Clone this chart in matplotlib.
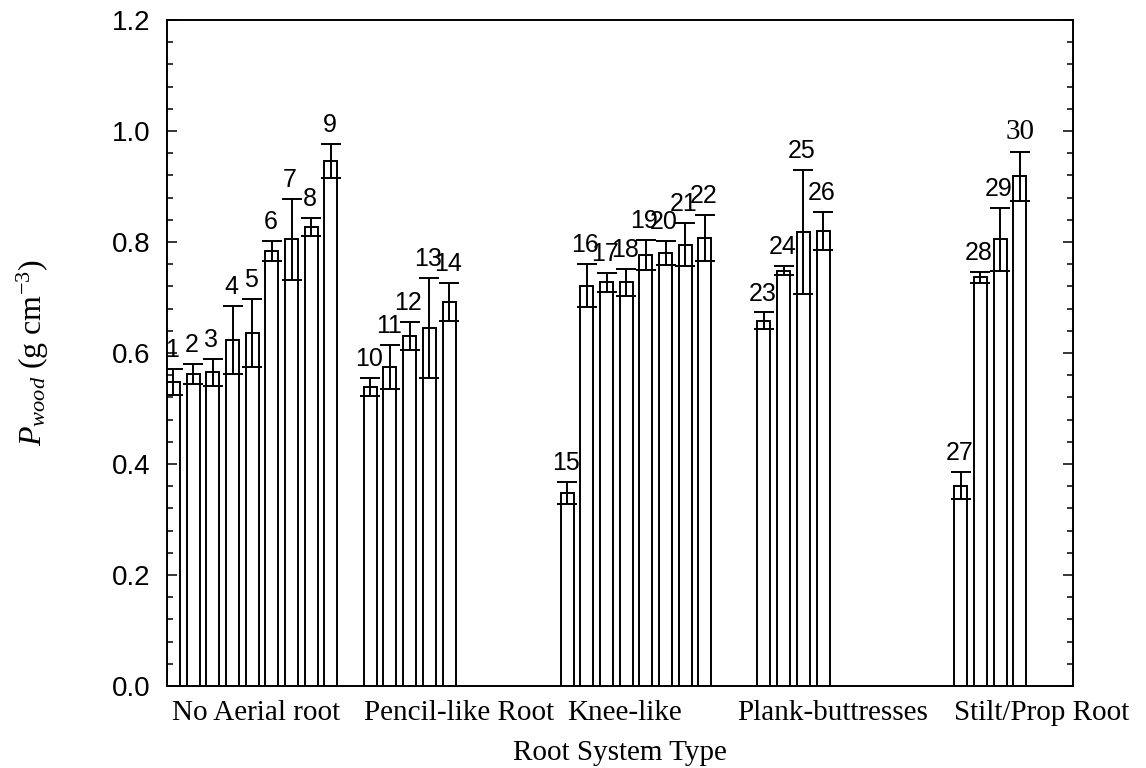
import matplotlib
matplotlib.use("Agg")
import matplotlib.pyplot as plt
import numpy as np
from matplotlib.ticker import MultipleLocator

# data
categories = ["No Aerial root", "Pencil-like Root", "Knee-like",
              "Plank-buttresses", "Stilt/Prop Root"]
group_sizes = [9, 5, 8, 4, 4]
wood_density = [0.548, 0.562, 0.565, 0.624, 0.636, 0.783, 0.805, 0.827, 0.946,
                0.539, 0.575, 0.631, 0.645, 0.692,
                0.347, 0.721, 0.727, 0.727, 0.777, 0.780, 0.795, 0.807,
                0.658, 0.748, 0.818, 0.820,
                0.361, 0.736, 0.805, 0.918]
wood_err = [0.024, 0.018, 0.025, 0.061, 0.062, 0.018, 0.073, 0.016, 0.030,
            0.016, 0.040, 0.025, 0.090, 0.034,
            0.020, 0.039, 0.017, 0.025, 0.027, 0.021, 0.039, 0.042,
            0.015, 0.008, 0.112, 0.034,
            0.025, 0.010, 0.057, 0.045]
bar_labels = [str(i) for i in range(1, 31)]

# each group gets 9 slots plus one empty slot
slots_per_group = 10
label_shift = [0.2, 0.5, -1.1, -0.5, 0.1]

plt.rcParams["mathtext.fontset"] = "custom"
plt.rcParams["mathtext.rm"] = "Liberation Serif"
plt.rcParams["mathtext.it"] = "Liberation Serif:italic"

x = []
for g, n in enumerate(group_sizes):
    for k in range(n):
        x.append(g * slots_per_group + k)
x = np.array(x)
means = np.array(wood_density)
errs = np.array(wood_err)

fig = plt.figure(figsize=(11.46, 7.68), dpi=100)
ax = fig.add_axes([0.1457, 0.1068, 0.7906, 0.8672])

ax.bar(x, means, width=0.66, color="white", edgecolor="black", linewidth=1.4)
ax.errorbar(x, means, yerr=errs, fmt="none", ecolor="black",
            elinewidth=1.4, capsize=7.5, capthick=1.4)

for xi, m, e, lab in zip(x, means, errs, bar_labels):
    if lab == "30":
        ax.annotate(lab, (xi, m + e), xytext=(0, 5), textcoords="offset points",
                    ha="center", va="bottom", fontsize=21,
                    family="Liberation Serif")
    else:
        ax.annotate(lab, (xi, m + e), xytext=(-1, 5), textcoords="offset points",
                    ha="center", va="bottom", fontsize=18,
                    family="Liberation Sans")

ax.set_xlim(-0.33, 45.7)
ax.set_ylim(0, 1.2)

centers = [g * slots_per_group + 4 + s for g, s in enumerate(label_shift)]
ax.set_xticks(centers)
ax.set_xticklabels(categories, family="Liberation Serif", fontsize=21)
ax.tick_params(axis="x", length=0, pad=10)

ax.yaxis.set_major_locator(MultipleLocator(0.2))
ax.yaxis.set_minor_locator(MultipleLocator(0.04))
ax.yaxis.set_major_formatter(plt.FormatStrFormatter("%.1f"))
ax.tick_params(axis="y", which="both", direction="in", left=True, right=True,
               width=1.1)
ax.tick_params(axis="y", which="major", length=7, labelsize=20, pad=12)
ax.tick_params(axis="y", which="minor", length=4)
for t in ax.get_yticklabels():
    t.set_family("Liberation Sans")

for sp in ax.spines.values():
    sp.set_linewidth(1.4)

ax.set_xlabel("Root System Type", family="Liberation Serif", fontsize=21,
              labelpad=10)
ax.set_ylabel(r"$P_{wood}$ (g cm$^{-3}$)", family="Liberation Serif",
              fontsize=23)
ax.yaxis.set_label_coords(-0.128, 0.5)

fig.savefig("out.png", dpi=100)
